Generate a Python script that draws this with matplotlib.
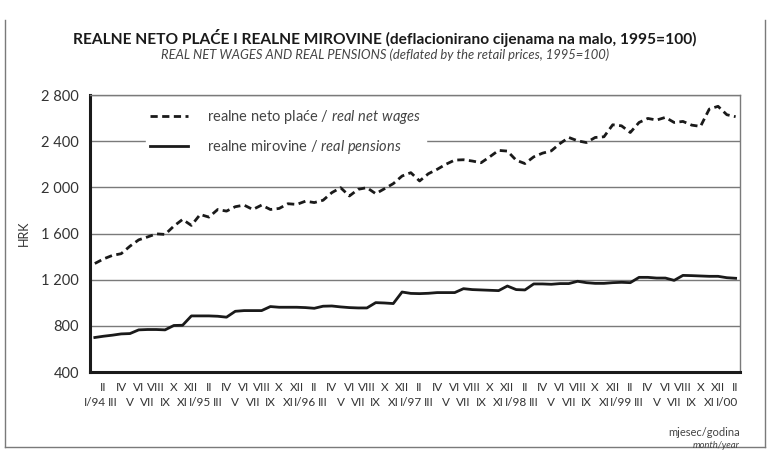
import numpy as np
import matplotlib.pyplot as plt
from matplotlib.lines import Line2D
from matplotlib.ticker import FuncFormatter, FixedLocator

plt.rcParams["font.family"] = ["Lato", "DejaVu Sans"]
plt.rcParams["mathtext.fontset"] = "custom"
plt.rcParams["mathtext.it"] = "Lato:italic"
plt.rcParams["mathtext.rm"] = "Lato"

################################################################
# data: monthly, I/94 .. II/00
roman = ["I", "II", "III", "IV", "V", "VI", "VII", "VIII", "IX", "X", "XI", "XII"]
years = ["94", "95", "96", "97", "98", "99", "00"]

wages = [
    1340, 1380, 1410, 1425, 1490, 1545, 1570, 1597, 1592, 1664, 1722, 1670,
    1765, 1742, 1808, 1794, 1832, 1846, 1808, 1846, 1808, 1817, 1858, 1852,
    1880, 1868, 1888, 1954, 1997, 1925, 1983, 1997, 1945, 1988, 2032, 2098,
    2127, 2055, 2118, 2156, 2200, 2236, 2239, 2228, 2213, 2265, 2320, 2314,
    2235, 2206, 2264, 2296, 2316, 2380, 2432, 2403, 2388, 2432, 2438, 2542,
    2533, 2475, 2562, 2597, 2583, 2606, 2562, 2571, 2539, 2528, 2678, 2702,
    2629, 2612,
]
pensions = [
    699, 710, 719, 730, 733, 765, 768, 768, 765, 803, 805, 886,
    886, 886, 883, 875, 926, 932, 932, 932, 967, 961, 961, 961,
    958, 952, 970, 972, 964, 958, 955, 955, 1001, 998, 993, 1093,
    1081, 1079, 1082, 1088, 1088, 1088, 1122, 1114, 1111, 1108, 1105, 1145,
    1114, 1111, 1163, 1163, 1160, 1166, 1166, 1186, 1174, 1168, 1168, 1174,
    1177, 1174, 1220, 1220, 1214, 1214, 1194, 1237, 1235, 1232, 1229, 1229,
    1217, 1212,
]

months = []
for y in years:
    for m in roman:
        months.append(f"I/{y}" if m == "I" else m)
months = months[: len(wages)]

################################################################
fig = plt.figure(figsize=(7.7, 4.57), dpi=100)
ax = fig.add_axes([90 / 770, 1 - 372 / 457, 650 / 770, 277 / 457])

x = np.arange(len(wages))
ln_w, = ax.plot(x, wages, color="#1a1a1a", lw=2.0, ls=(0, (2.6, 1.6)))
ln_p, = ax.plot(x, pensions, color="#1a1a1a", lw=2.0)

ax.set_ylim(400, 2800)
ax.set_xlim(-0.55, len(wages) - 0.5)
ax.set_yticks(range(400, 2801, 400))
ax.yaxis.set_major_formatter(FuncFormatter(lambda v, p: f"{v:,.0f}".replace(",", " ")))
ax.grid(axis="y", color="#7a7a7a", lw=1.0)
ax.set_axisbelow(True)

# lower row: odd months, upper row: even months
ax.xaxis.set_major_locator(FixedLocator(x[0::2]))
ax.xaxis.set_minor_locator(FixedLocator(x[1::2]))
ax.set_xticklabels(months[0::2])
ax.set_xticklabels(months[1::2], minor=True)
ax.tick_params(axis="x", which="major", length=0, pad=18, labelsize=8.5, colors="#333333")
ax.tick_params(axis="x", which="minor", length=0, pad=7, labelsize=8.5, colors="#333333")
ax.tick_params(axis="y", length=0, pad=8, labelsize=10.5, colors="#333333")

for side in ["left", "bottom"]:
    ax.spines[side].set_linewidth(2.2)
    ax.spines[side].set_color("#1a1a1a")
for side in ["top", "right"]:
    ax.spines[side].set_linewidth(1.0)
    ax.spines[side].set_color("#7a7a7a")

ax.set_ylabel("HRK", fontsize=9, color="#333333", labelpad=8)

leg = ax.legend(
    [ln_w, ln_p],
    [r"realne neto plaće / $real\ net\ wages$", r"realne mirovine / $real\ pensions$"],
    loc="upper left", bbox_to_anchor=(0.075, 0.995), frameon=True, fancybox=False,
    edgecolor="white", facecolor="white", framealpha=1.0, fontsize=10.5,
    handlelength=2.6, handletextpad=1.3, labelspacing=0.85, borderpad=0.3,
)
for t in leg.get_texts():
    t.set_color("#444444")

fig.text(0.5, 1 - 38 / 457, "REALNE NETO PLAĆE I REALNE MIROVINE (deflacionirano cijenama na malo, 1995=100)",
         ha="center", va="center", fontsize=11.2, fontweight="bold", color="#1a1a1a")
fig.text(0.5, 1 - 55 / 457, "REAL NET WAGES AND REAL PENSIONS (deflated by the retail prices, 1995=100)",
         ha="center", va="center", fontsize=9.4, style="italic", color="#444444")
fig.text(740 / 770, 1 - 432 / 457, "mjesec/godina", ha="right", va="center", fontsize=8, color="#444444")
fig.text(740 / 770, 1 - 445 / 457, "month/year", ha="right", va="center", fontsize=6.8,
         style="italic", color="#444444")

# outer frame
frame = dict(color="#7a7a7a", lw=1.0, transform=fig.transFigure)
fig.add_artist(Line2D([5 / 770, 5 / 770], [1 - 20 / 457, 1 - 447 / 457], **frame))
fig.add_artist(Line2D([5 / 770, 765 / 770], [1 - 447 / 457, 1 - 447 / 457], **frame))
fig.add_artist(Line2D([765 / 770, 765 / 770], [1 - 20 / 457, 1 - 447 / 457], **frame))

fig.savefig("out.png", dpi=100)
